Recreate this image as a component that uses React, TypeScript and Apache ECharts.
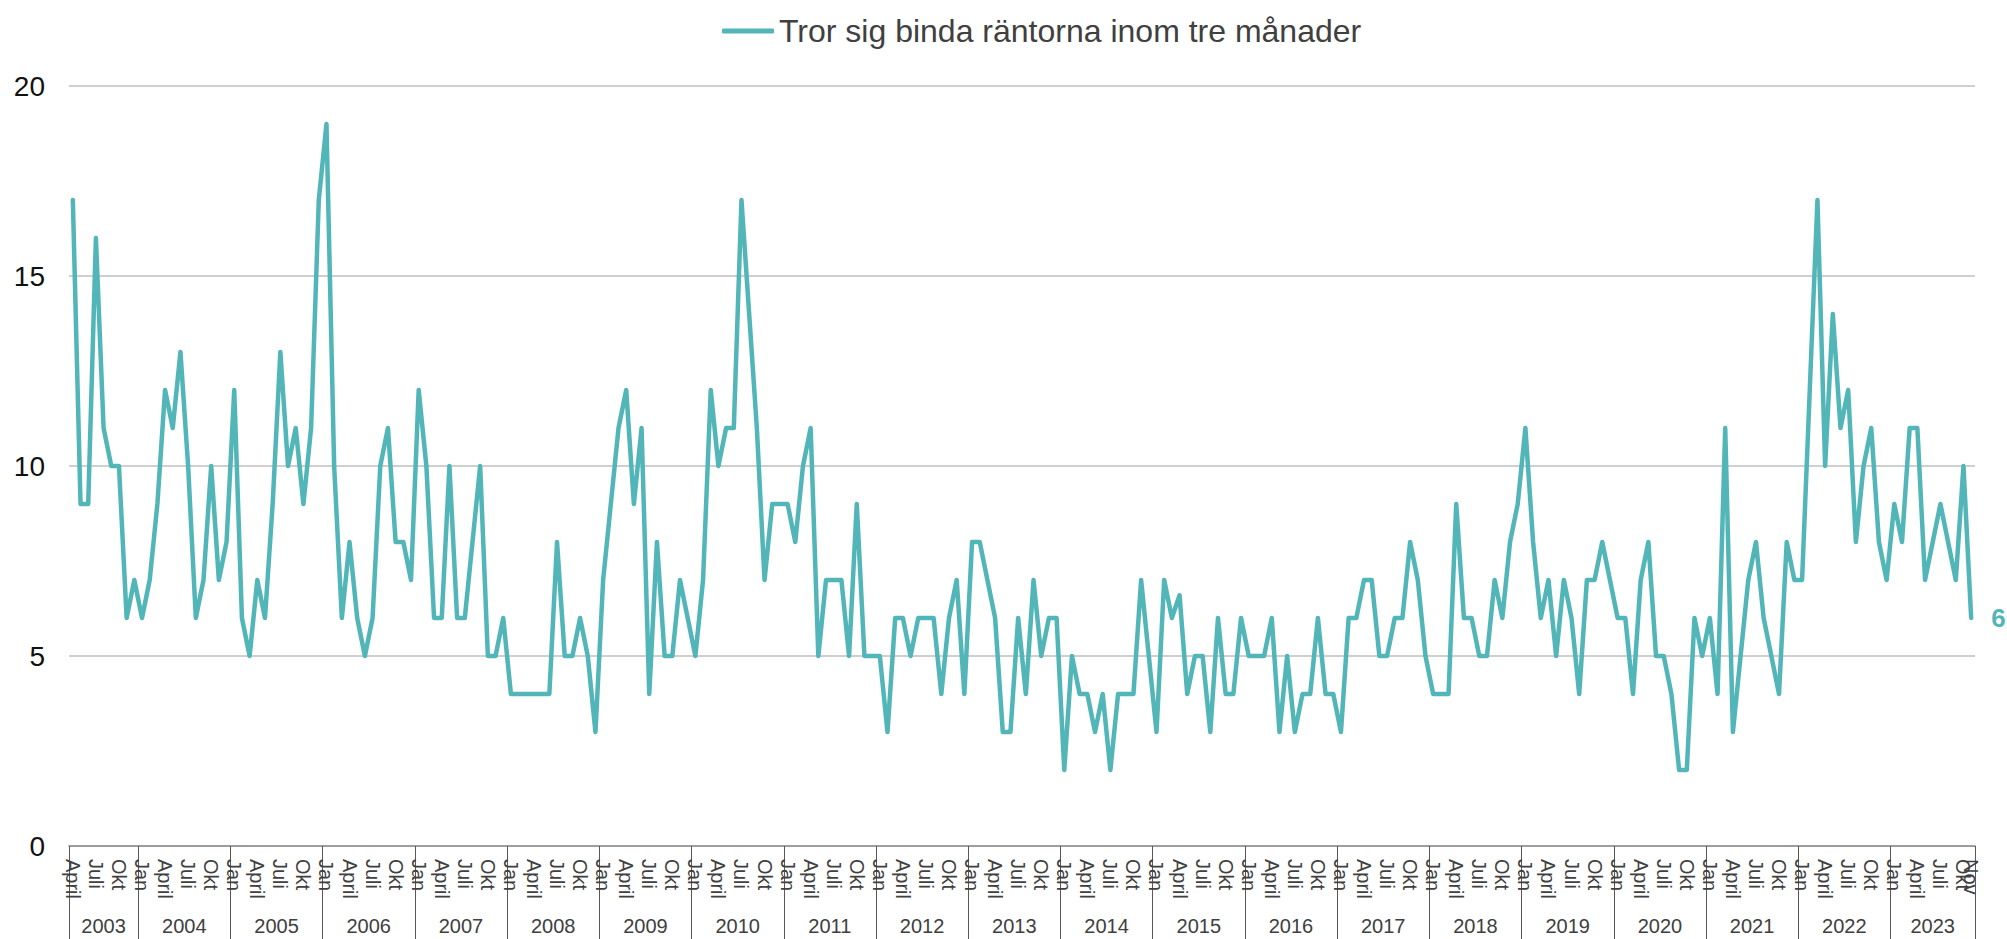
import React, { useEffect, useRef } from "react";
import * as echarts from "echarts";

// ---- Data ----
const SERIES_NAME = "Tror sig binda räntorna inom tre månader";
const MONTH_NAMES = ["Jan", "Feb", "Mars", "April", "Maj", "Juni", "Juli", "Aug", "Sep", "Okt", "Nov", "Dec"];
const LABEL_MONTHS = ["Jan", "April", "Juli", "Okt"];
const YEARS = [2003, 2004, 2005, 2006, 2007, 2008, 2009, 2010, 2011, 2012, 2013, 2014, 2015, 2016, 2017, 2018, 2019, 2020, 2021, 2022, 2023];
const FIRST_MONTH = 3; // April 2003

const v2003 = [17, 9, 9, 16, 11, 10, 10, 6, 7];
const v2004 = [6, 7, 9, 12, 11, 13, 10, 6, 7, 10, 7, 8];
const v2005 = [12, 6, 5, 7, 6, 9, 13, 10, 11, 9, 11, 17];
const v2006 = [19, 10, 6, 8, 6, 5, 6, 10, 11, 8, 8, 7];
const v2007 = [12, 10, 6, 6, 10, 6, 6, 8, 10, 5, 5, 6];
const v2008 = [4, 4, 4, 4, 4, 4, 8, 5, 5, 6, 5, 3];
const v2009 = [7, 9, 11, 12, 9, 11, 4, 8, 5, 5, 7, 6];
const v2010 = [5, 7, 12, 10, 11, 11, 17, 14, 11, 7, 9, 9];
const v2011 = [9, 8, 10, 11, 5, 7, 7, 7, 5, 9, 5, 5];
const v2012 = [5, 3, 6, 6, 5, 6, 6, 6, 4, 6, 7, 4];
const v2013 = [8, 8, 7, 6, 3, 3, 6, 4, 7, 5, 6, 6];
const v2014 = [2, 5, 4, 4, 3, 4, 2, 4, 4, 4, 7, 5];
const v2015 = [3, 7, 6, 6.6, 4, 5, 5, 3, 6, 4, 4, 6];
const v2016 = [5, 5, 5, 6, 3, 5, 3, 4, 4, 6, 4, 4];
const v2017 = [3, 6, 6, 7, 7, 5, 5, 6, 6, 8, 7, 5];
const v2018 = [4, 4, 4, 9, 6, 6, 5, 5, 7, 6, 8, 9];
const v2019 = [11, 8, 6, 7, 5, 7, 6, 4, 7, 7, 8, 7];
const v2020 = [6, 6, 4, 7, 8, 5, 5, 4, 2, 2, 6, 5];
const v2021 = [6, 4, 11, 3, 5, 7, 8, 6, 5, 4, 8, 7];
const v2022 = [7, 12, 17, 10, 14, 11, 12, 8, 10, 11, 8, 7];
const v2023 = [9, 8, 11, 11, 7, 8, 9, 8, 7, 10, 6];

const YEAR_VALUES = [v2003, v2004, v2005, v2006, v2007, v2008, v2009, v2010, v2011, v2012, v2013, v2014, v2015, v2016, v2017, v2018, v2019, v2020, v2021, v2022, v2023];

const TEAL = "#52B6B9";

export default function App() {
  const ref = useRef<HTMLDivElement>(null);

  useEffect(() => {
    if (!ref.current) return;
    const chart = echarts.init(ref.current, null, { renderer: "svg" });

    // Build categories from the arrays
    const categories: string[] = [];
    const monthLabels: string[] = [];
    const values: number[] = [];
    const boundaries: number[] = [0];
    const midpoints: number[] = [];
    const midYear: Record<string, number> = {};
    YEARS.forEach((y, yi) => {
      const start = yi === 0 ? FIRST_MONTH : 0;
      const vals = YEAR_VALUES[yi];
      const startIdx = categories.length;
      vals.forEach((v, k) => {
        const m = start + k;
        categories.push(`${y}-${m + 1}`);
        monthLabels.push(MONTH_NAMES[m]);
        values.push(v);
      });
      const endIdx = categories.length;
      boundaries.push(endIdx);
      const mid = (startIdx + endIdx) / 2;
      midpoints.push(mid);
      midYear[String(mid)] = y;
    });
    const lastIdx = categories.length - 1;

    const font = "'Liberation Sans', Arial, sans-serif";
    const monthLabelStyle = {
      rotate: -90,
      margin: 13,
      fontSize: 20,
      color: "#404040",
      hideOverlap: false,
      formatter: (_v: string, index: number) => monthLabels[index],
    };

    chart.setOption({
      animation: false,
      textStyle: { fontFamily: font },
      legend: {
        data: [{ name: SERIES_NAME, icon: "roundRect" }],
        left: 717,
        top: 10,
        itemWidth: 52,
        itemHeight: 5,
        textStyle: { fontSize: 32, color: "#404040", fontFamily: font },
      },
      grid: { left: 69, right: 32, top: 86, bottom: 93, containLabel: false },
      xAxis: [
        {
          type: "category",
          data: categories,
          boundaryGap: true,
          position: "bottom",
          axisLine: { show: true, lineStyle: { color: "#8c8c8c", width: 1.5 } },
          axisTick: { show: false },
          axisLabel: {
            ...monthLabelStyle,
            showMinLabel: true,
            showMaxLabel: true,
            interval: (index: number) =>
              index !== lastIdx && LABEL_MONTHS.indexOf(monthLabels[index]) >= 0,
          },
          splitLine: { show: false },
        },
        {
          type: "value",
          min: 0,
          max: categories.length,
          position: "bottom",
          axisLine: { show: false },
          splitLine: { show: false },
          axisTick: {
            show: true,
            inside: false,
            length: 93,
            customValues: boundaries,
            lineStyle: { color: "#595959", width: 1 },
          },
          axisLabel: {
            show: true,
            customValues: midpoints,
            margin: 70,
            fontSize: 20,
            color: "#404040",
            formatter: (v: number) => String(midYear[String(v)] ?? ""),
          },
        },
        {
          type: "category",
          data: categories,
          boundaryGap: true,
          position: "bottom",
          axisLine: { show: false },
          axisTick: { show: false },
          splitLine: { show: false },
          axisLabel: {
            ...monthLabelStyle,
            showMaxLabel: true,
            interval: (index: number) => index === lastIdx,
          },
        },
      ],
      yAxis: {
        type: "value",
        min: 0,
        max: 20,
        interval: 5,
        axisLine: { show: false },
        axisTick: { show: false },
        axisLabel: { fontSize: 28, color: "#111", margin: 24 },
        splitLine: { lineStyle: { color: "#bfbfbf", width: 1.5 } },
      },
      series: [
        {
          name: SERIES_NAME,
          type: "line",
          xAxisIndex: 0,
          data: values,
          symbol: "none",
          color: TEAL,
          lineStyle: { color: TEAL, width: 4.5, join: "round", cap: "round" },
          endLabel: {
            show: true,
            formatter: (p: any) => String(p.value),
            color: TEAL,
            fontSize: 26,
            fontWeight: "bold",
            distance: 20,
          },
        },
      ],
    });

    return () => chart.dispose();
  }, []);

  return (
    <div
      ref={ref}
      style={{ position: "fixed", left: 0, top: 0, width: "2007px", height: "939px", background: "#fff" }}
    />
  );
}
